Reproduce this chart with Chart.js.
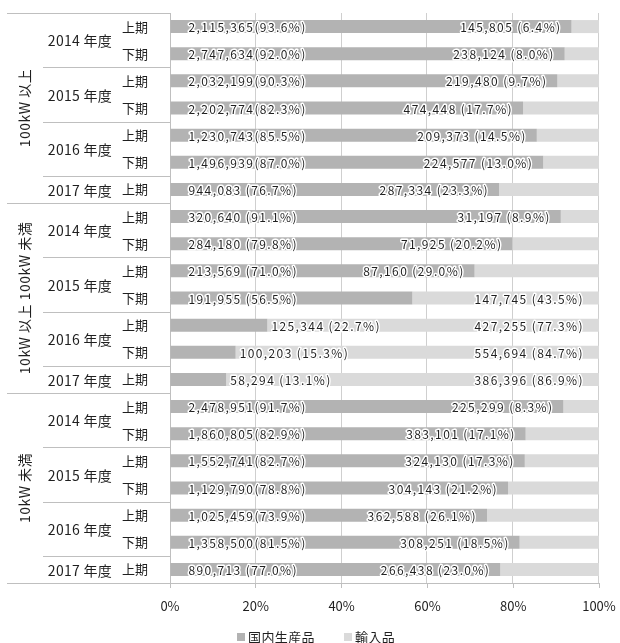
<!DOCTYPE html>
<html>
<head>
<meta charset="utf-8">
<script src="https://cdn.jsdelivr.net/npm/chart.js@4/dist/chart.umd.min.js"></script>
<style>
  html, body { margin: 0; padding: 0; background: #fff; }
  #wrap { width: 620px; height: 643px; }
</style>
</head>
<body>
<div id="wrap"><canvas id="dash" width="620" height="643"></canvas></div>
<script>
(function () {
  'use strict';

  // 区分・期間
  const sizeClasses = ['100kW 以上', '10kW 以上 100kW 未満', '10kW 未満'];
  const periodYear = ['2014 年度', '2014 年度', '2015 年度', '2015 年度', '2016 年度', '2016 年度', '2017 年度'];
  const periodHalf = ['上期', '下期', '上期', '下期', '上期', '下期', '上期'];

  // 国内生産品 (数量, 割合)
  const domesticQty = [
    2115365, 2747634, 2032199, 2202774, 1230743, 1496939, 944083,
    320640, 284180, 213569, 191955, 125344, 100203, 58294,
    2478951, 1860805, 1552741, 1129790, 1025459, 1358500, 890713
  ];
  const domesticPct = [
    93.6, 92.0, 90.3, 82.3, 85.5, 87.0, 76.7,
    91.1, 79.8, 71.0, 56.5, 22.7, 15.3, 13.1,
    91.7, 82.9, 82.7, 78.8, 73.9, 81.5, 77.0
  ];

  // 輸入品 (数量, 割合)
  const importQty = [
    145805, 238124, 219480, 474448, 209373, 224577, 287334,
    31197, 71925, 87160, 147745, 427255, 554694, 386396,
    225299, 383101, 324130, 304143, 362588, 308251, 266438
  ];
  const importPct = [
    6.4, 8.0, 9.7, 17.7, 14.5, 13.0, 23.3,
    8.9, 20.2, 29.0, 43.5, 77.3, 84.7, 86.9,
    8.3, 17.1, 17.3, 21.2, 26.1, 18.5, 23.0
  ];

  const xStep = 20;
  const seriesNames = ['国内生産品', '輸入品'];

  const DARK = '#b3b3b3';
  const LIGHT = '#dadada';
  const LINE = '#bfbfbf';
  const GRID = '#cfcfcf';
  const TEXT = '#1f1f1f';
  const FONT = '"Noto Sans CJK JP", "Noto Sans", sans-serif';

  // 行ラベル (区分 × 期間)
  let rows = [];
  sizeClasses.forEach(function () {
    periodHalf.forEach(function (h) {
      rows.push(h);
    });
  });

  function fmt(qty, pct) {
    let s = qty.toLocaleString('en-US');
    let p = '(' + pct.toFixed(1) + '%)';
    return qty >= 1000000 ? s + p : s + ' ' + p;
  }

  function spacing(ctx, px) {
    if ('letterSpacing' in ctx) ctx.letterSpacing = px + 'px';
  }

  function haloText(ctx, text, x, y) {
    ctx.lineWidth = 3;
    ctx.lineJoin = 'round';
    ctx.strokeStyle = '#fff';
    ctx.strokeText(text, x, y);
    ctx.fillStyle = TEXT;
    ctx.fillText(text, x, y);
  }

  // 目盛りごとの縦線 (バーの背面)
  const vGrid = {
    id: 'vGrid',
    beforeDatasetsDraw(chart) {
      const ctx = chart.ctx;
      const ca = chart.chartArea;
      const xs = chart.scales.x;
      ctx.save();
      ctx.strokeStyle = GRID;
      ctx.lineWidth = 1;
      for (let v = xStep; v <= 100; v += xStep) {
        const px = Math.round(xs.getPixelForValue(v)) - 0.5;
        ctx.beginPath();
        ctx.moveTo(px, ca.top);
        ctx.lineTo(px, ca.bottom);
        ctx.stroke();
      }
      ctx.restore();
    }
  };

  // バー上の数量ラベル
  const barLabels = {
    id: 'barLabels',
    afterDatasetsDraw(chart) {
      const ctx = chart.ctx;
      const ca = chart.chartArea;
      const dom = chart.getDatasetMeta(0).data;
      ctx.save();
      ctx.font = '12px ' + FONT;
      spacing(ctx, 1.4);
      ctx.textBaseline = 'middle';
      dom.forEach(function (bar, i) {
        const start = bar.base;
        const end = bar.x;
        const y = bar.y + 1;
        const t1 = fmt(domesticQty[i], domesticPct[i]);
        const t2 = fmt(importQty[i], importPct[i]);
        const w1 = ctx.measureText(t1).width;
        const w2 = ctx.measureText(t2).width;

        let x1 = start + 18;
        if (x1 + w1 + 4 > end) x1 = end + 4;
        ctx.textAlign = 'left';
        haloText(ctx, t1, x1, y);

        let x2 = end - 10;
        if (x2 - w2 < x1 + w1 + 6) x2 = ca.right - 15;
        ctx.textAlign = 'right';
        haloText(ctx, t2, x2, y);
      });
      ctx.restore();
    }
  };

  // 左側の階層見出しと区切り線、凡例
  const rowHeaders = {
    id: 'rowHeaders',
    afterDraw(chart) {
      const ctx = chart.ctx;
      const ca = chart.chartArea;
      const ys = chart.scales.y;
      const step = ys.getPixelForValue(1) - ys.getPixelForValue(0);
      const n = periodHalf.length;

      ctx.save();
      ctx.strokeStyle = LINE;
      ctx.lineWidth = 1;
      ctx.fillStyle = TEXT;
      ctx.textBaseline = 'middle';

      function hline(y, x0, x1) {
        ctx.beginPath();
        ctx.moveTo(x0, Math.round(y) + 0.5);
        ctx.lineTo(x1, Math.round(y) + 0.5);
        ctx.stroke();
      }

      hline(ca.top, 7, ca.left);
      sizeClasses.forEach(function (name, g) {
        const first = g * n;
        const top = ys.getPixelForValue(first) - step / 2;
        const bottom = ys.getPixelForValue(first + n - 1) + step / 2;
        hline(bottom, 7, ca.left);

        // 年度
        ctx.font = '14px ' + FONT;
        spacing(ctx, 0.3);
        let k = 0;
        while (k < n) {
          let m = k;
          while (m + 1 < n && periodYear[m + 1] === periodYear[k]) m++;
          const yc = (ys.getPixelForValue(first + k) + ys.getPixelForValue(first + m)) / 2;
          ctx.textAlign = 'center';
          ctx.fillText(periodYear[k], 80, yc + 1);
          if (m + 1 < n) hline(ys.getPixelForValue(first + m) + step / 2, 43, ca.left);
          k = m + 1;
        }

        // 区分 (縦書き)
        ctx.save();
        ctx.font = '14px ' + FONT;
        spacing(ctx, 0.5);
        ctx.translate(25, (top + bottom) / 2);
        ctx.rotate(-Math.PI / 2);
        ctx.textAlign = 'center';
        ctx.fillText(name, 0, 0);
        ctx.restore();
      });

      // 凡例
      const colors = [DARK, LIGHT];
      const lx = [237, 344];
      ctx.font = '13px ' + FONT;
      spacing(ctx, 0.4);
      ctx.textAlign = 'left';
      seriesNames.forEach(function (s, i) {
        ctx.fillStyle = colors[i];
        ctx.fillRect(lx[i], 633, 8, 8);
        ctx.fillStyle = TEXT;
        ctx.fillText(s, lx[i] + 11, 637);
      });
      ctx.restore();
    }
  };

  let dash = document.getElementById('dash');
  let grafico = new Chart(dash, {
    type: 'bar',
    data: {
      labels: rows,
      datasets: [{
        label: seriesNames[0],
        data: domesticPct,
        backgroundColor: DARK,
        borderWidth: 0
      }, {
        label: seriesNames[1],
        data: importPct,
        backgroundColor: LIGHT,
        borderWidth: 0
      }]
    },
    options: {
      responsive: false,
      animation: false,
      indexAxis: 'y',
      categoryPercentage: 1,
      barPercentage: 0.48,
      layout: { padding: { top: 13, right: 21, bottom: 32, left: 0 } },
      plugins: {
        legend: { display: false },
        tooltip: { enabled: false }
      },
      scales: {
        x: {
          stacked: true,
          min: 0,
          max: 100,
          afterFit(scale) {
            scale.height = 28;
            scale.paddingLeft = 0;
            scale.paddingRight = 0;
          },
          grid: {
            drawOnChartArea: false,
            tickLength: 5,
            tickColor: LINE
          },
          border: { color: LINE },
          ticks: {
            stepSize: xStep,
            padding: 10,
            color: TEXT,
            font: { family: FONT, size: 13 },
            callback: function (v) { return v + '%'; }
          }
        },
        y: {
          stacked: true,
          afterFit(scale) {
            scale.width = 170;
            scale.paddingTop = 0;
            scale.paddingBottom = 0;
          },
          grid: { display: false, drawTicks: false },
          border: { color: LINE },
          ticks: {
            padding: 22,
            color: TEXT,
            font: { family: FONT, size: 13 },
            autoSkip: false
          }
        }
      }
    },
    plugins: [vGrid, barLabels, rowHeaders]
  });
})();
</script>
</body>
</html>
